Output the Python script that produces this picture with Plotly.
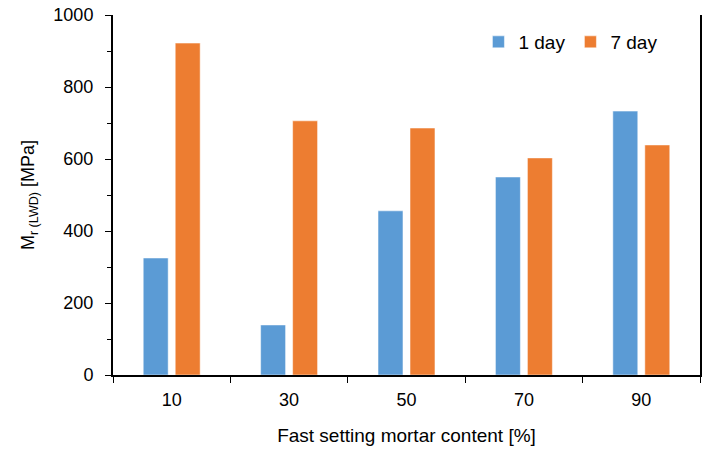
import plotly.graph_objects as go

categories = ["10", "30", "50", "70", "90"]
day1 = [325, 139, 456, 550, 733]
day7 = [922, 706, 686, 603, 639]

fig = go.Figure()
fig.add_trace(go.Bar(x=categories, y=day1, name="1 day",
                     marker=dict(color="#5B9BD5", line=dict(color="white", width=0.5))))
fig.add_trace(go.Bar(x=categories, y=day7, name="7 day",
                     marker=dict(color="#ED7D31", line=dict(color="white", width=0.5))))

font = "Liberation Sans, Arial, sans-serif"
fig.update_layout(
    width=705, height=453,
    margin=dict(l=113, r=5, t=15, b=78),
    paper_bgcolor="white", plot_bgcolor="white",
    barmode="group", bargap=0.455, bargroupgap=0.22,
    font=dict(family=font, size=18, color="black"),
    showlegend=True,
    legend=dict(orientation="h", x=0.936, xanchor="right", y=0.925, yanchor="middle",
                font=dict(size=19), bgcolor="rgba(0,0,0,0)", itemwidth=30),
    xaxis=dict(type="category", tickson="boundaries", ticks="outside", ticklen=6,
               tickcolor="black", showline=True, linecolor="black", linewidth=2,
               showgrid=False, ticklabelstandoff=7, automargin=False,
               title=dict(text="Fast setting mortar content [%]", font=dict(size=19), standoff=20)),
    yaxis=dict(range=[0, 1000], tickvals=[0, 200, 400, 600, 800, 1000],
               ticks="outside", ticklen=6, tickcolor="black", ticklabelstandoff=8,
               ticklabeloverflow="allow", automargin=False,
               minor=dict(tickvals=[100, 300, 500, 700, 900], ticks="outside", ticklen=4, tickcolor="black"),
               showline=True, linecolor="black", linewidth=2, mirror=True,
               showgrid=False, zeroline=False,
               title=dict(text="M<sub>r (LWD)</sub> [MPa]", font=dict(size=18), standoff=14)),
)

fig.write_html("out.html", config={"displayModeBar": False},
               post_script="document.body.style.margin='0';document.body.style.overflow='hidden';")
